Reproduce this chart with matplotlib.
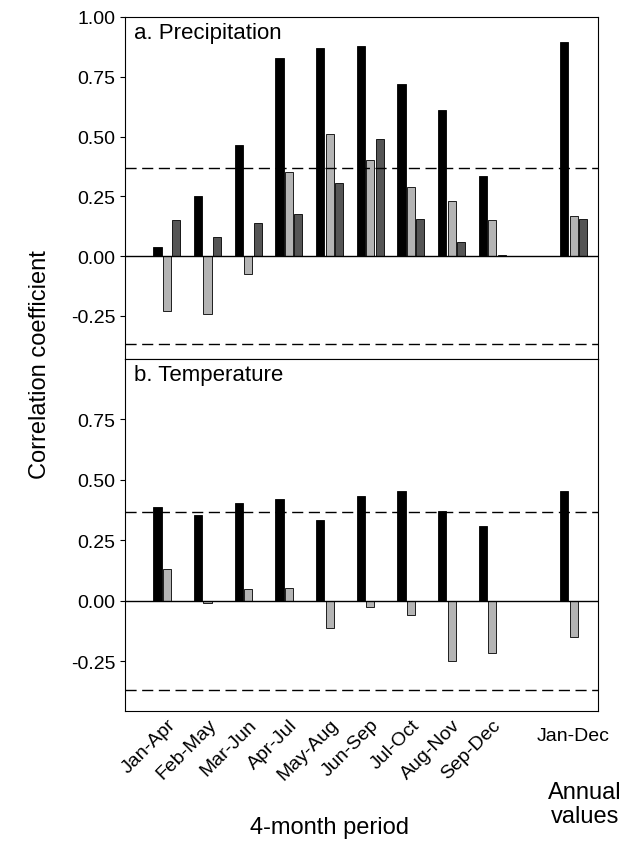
import matplotlib
matplotlib.use("Agg")
import matplotlib.pyplot as plt
import numpy as np
plt.rcParams['font.family'] = ['Liberation Sans', 'DejaVu Sans']

periods = ["Jan-Apr","Feb-May","Mar-Jun","Apr-Jul","May-Aug","Jun-Sep","Jul-Oct","Aug-Nov","Sep-Dec"]
annual = "Jan-Dec"
prec_black = [0.04,0.25,0.465,0.83,0.87,0.88,0.72,0.61,0.335,0.895]
prec_light = [-0.23,-0.24,-0.075,0.35,0.51,0.40,0.29,0.23,0.15,0.17]
prec_dark = [0.15,0.08,0.14,0.175,0.305,0.49,0.155,0.06,0.005,0.155]
temp_black = [0.39,0.355,0.405,0.42,0.335,0.435,0.455,0.37,0.31,0.455]
temp_light = [0.13,-0.01,0.05,0.055,-0.11,-0.025,-0.06,-0.25,-0.215,-0.15]
sig = 0.367

x = np.array(list(range(9)) + [10])
w = 0.2
d = 0.23
fig = plt.figure(figsize=(6.28,8.45), dpi=100)
ax1 = fig.add_axes([125/628, 1-360/845, 473/628, 342/845])
ax2 = fig.add_axes([125/628, 1-712/845, 473/628, 352/845])

def style(ax):
    ax.set_xlim(-1.03, 10.6)
    ax.axhline(0, color="black", lw=1)
    for s in (sig, -sig):
        ax.axhline(s, color="black", lw=1, ls=(0,(8,4)))
    ax.tick_params(labelsize=14, direction="out")

ax1.bar(x-d, prec_black, w, color="black", edgecolor="black", lw=0.6)
ax1.bar(x, prec_light, w, color="#b4b4b4", edgecolor="black", lw=0.6)
ax1.bar(x+d, prec_dark, w, color="#555555", edgecolor="black", lw=0.6)
style(ax1)
ax1.set_ylim(-0.43, 1.0)
ax1.set_yticks([-0.25,0,0.25,0.5,0.75,1.0])
ax1.set_yticklabels(["-0.25","0.00","0.25","0.50","0.75","1.00"])
ax1.set_xticks([])
ax1.text(0.02, 0.985, "a. Precipitation", transform=ax1.transAxes, fontsize=16, va="top")

ax2.bar(x-d, temp_black, w, color="black", edgecolor="black", lw=0.6)
ax2.bar(x, temp_light, w, color="#b4b4b4", edgecolor="black", lw=0.6)
style(ax2)
ax2.set_ylim(-0.455, 1.0)
ax2.set_yticks([-0.25,0,0.25,0.5,0.75])
ax2.set_yticklabels(["-0.25","0.00","0.25","0.50","0.75"])
ax2.set_xticks(x)
ax2.set_xticklabels(periods + [""], rotation=45, ha="right", rotation_mode="anchor", fontsize=14)
ax2.text(10, -0.52, annual, ha="center", va="top", fontsize=14)
ax2.text(0.02, 0.985, "b. Temperature", transform=ax2.transAxes, fontsize=16, va="top")
ax2.tick_params(axis="x", length=0)

fig.text(40/628, 1-365/845, "Correlation coefficient", rotation=90, va="center", ha="center", fontsize=17)
fig.text(330/628, 1-828/845, "4-month period", ha="center", va="center", fontsize=17)
fig.text(585/628, 1-805/845, "Annual\nvalues", ha="center", va="center", fontsize=17, linespacing=1.1)
fig.savefig("out.png", dpi=100)
